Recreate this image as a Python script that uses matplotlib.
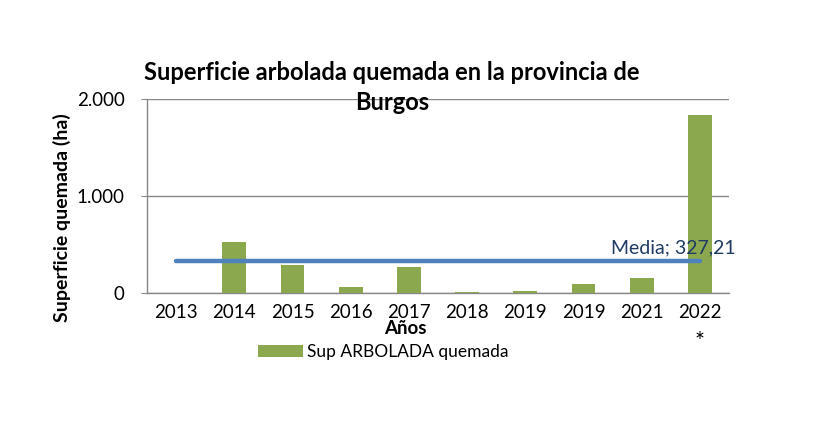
import matplotlib
matplotlib.use("Agg")
import matplotlib.pyplot as plt
import numpy as np

plt.rcParams['font.family'] = ['Lato', 'DejaVu Sans']

categories = ["2013", "2014", "2015", "2016", "2017", "2018", "2019", "2019", "2021", "2022"]
values = [5, 530, 290, 60, 270, 8, 20, 90, 150, 1835]
media = 327.21

fig = plt.figure(figsize=(8.29, 4.22), dpi=100)
ax = fig.add_axes([147/829, 1-293/422, (729-147)/829, (293-99)/422])

x = np.arange(len(categories))
ax.bar(x, values, width=0.41, color="#8CA84F", label="Sup ARBOLADA quemada", zorder=3)
ax.plot([x[0], x[-1]], [media, media], color="#4F81BD", linewidth=3.2, solid_capstyle='round', zorder=4)
ax.text(x[-1] + 0.62, media + 50, "Media; 327,21", color="#1F3B63", fontsize=14, ha="right", va="bottom", zorder=5)

ax.set_xlim(-0.5, len(categories) - 0.5)
ax.set_ylim(0, 2000)
ax.set_yticks([0, 1000, 2000])
ax.set_yticklabels(["0", "1.000", "2.000"], fontsize=13.5)
ax.set_xticks(x)
ax.set_xticklabels(categories, fontsize=13.5)
ax.tick_params(axis='x', length=0, pad=8)
ax.tick_params(axis='y', length=4, color="#888888", pad=12)
ax.yaxis.grid(True, color="#888888", linewidth=1)
ax.set_axisbelow(True)
for s in ["top", "right"]:
    ax.spines[s].set_visible(False)
for s in ["left", "bottom"]:
    ax.spines[s].set_color("#888888")
    ax.spines[s].set_linewidth(1)

# asterisk under the last year
ax.annotate("*", xy=(x[-1], 0), xycoords="data", xytext=(0, -35), textcoords="offset points",
            ha="center", va="center", fontsize=17, annotation_clip=False)

fig.text(62/829, 1-218/422, "Superficie quemada (ha)", rotation=90, ha="center", va="center",
         fontsize=14, fontweight="bold")
fig.text(405/829, 1-329/422, "Años", ha="center", va="center", fontsize=13.5, fontweight="bold")
fig.text(392/829, 1-72/422, "Superficie arbolada quemada en la provincia de", ha="center", va="center",
         fontsize=17, fontweight="bold")
fig.text(392/829, 1-103/422, "Burgos", ha="center", va="center", fontsize=17, fontweight="bold")

leg = fig.legend(loc="center", bbox_to_anchor=(383/829, 1-352/422), frameon=False, fontsize=12.5,
                 handlelength=2.6, handleheight=0.7, handletextpad=0.2)

fig.savefig("out.png", dpi=100)
